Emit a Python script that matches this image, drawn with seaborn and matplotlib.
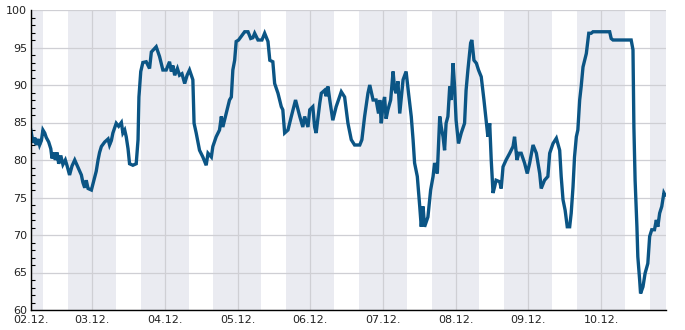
import matplotlib
matplotlib.use("Agg")
import matplotlib.pyplot as plt
import seaborn as sns
import pandas as pd
from matplotlib.ticker import MultipleLocator, FixedLocator

# hours since 02.12. 00:00
hours = [3.6, 4.1, 4.4, 5.0, 5.5, 6.1, 6.6, 7.2, 7.7, 8.3, 8.8, 9.6, 10.3, 10.7, 11.4, 11.8,
         12.4, 12.9, 13.6, 14.3, 15.1, 15.7, 16.5, 17.3, 18.2, 19.3, 20.4, 20.9, 21.5, 22.0,
         22.6, 23.7, 24.2, 25.3, 25.9, 26.4, 27.0, 28.1, 29.2, 29.7, 30.3, 30.8, 31.9, 32.7,
         33.6, 34.1, 34.7, 35.2, 35.8, 36.3, 37.4, 38.5, 39.1, 39.4, 40.0, 40.7, 41.8, 42.9,
         43.5, 45.1, 46.2, 47.3, 48.4, 49.5, 50.1, 50.6, 51.2, 52.1, 52.8, 53.6, 54.5, 55.3,
         56.1, 57.2, 57.6, 58.3, 59.4, 60.5, 61.6, 62.2, 63.3, 63.8, 64.9, 66.0, 66.6, 67.1,
         68.2, 69.3, 69.9, 70.4, 71.0, 71.5, 72.3, 73.2, 74.3, 75.4, 76.3, 77.0, 77.6, 78.7,
         80.0, 80.9, 82.0, 82.6, 83.6, 84.2, 85.3, 86.4, 86.9, 87.5, 88.6, 89.7, 91.1, 92.5,
         93.5, 94.1, 95.2, 95.8, 96.8, 97.4, 97.9, 99.1, 99.6, 100.7, 101.2, 101.8, 102.4,
         103.4, 104.5, 106.2, 107.3, 108.4, 109.5, 110.6, 112.3, 113.0, 113.9, 115.0, 115.6,
         116.7, 117.7, 118.5, 118.9, 119.4, 120.0, 120.5, 121.0, 121.6, 122.5, 123.3, 123.8,
         124.3, 124.9, 125.5, 126.6, 127.6, 128.4, 129.3, 129.9, 130.4, 131.3, 132.1, 132.6,
         133.2, 133.7, 134.8, 135.7, 136.5, 137.0, 137.9, 138.7, 139.2, 139.8, 140.3, 140.8,
         141.4, 142.0, 142.5, 143.1, 143.6, 144.1, 144.9, 145.8, 146.9, 147.4, 148.0, 148.9,
         149.3, 150.0, 150.8, 151.5, 152.4, 153.3, 154.0, 154.6, 155.2, 155.7, 156.3, 156.8,
         157.3, 158.5, 159.0, 159.6, 160.6, 161.8, 162.9, 163.4, 164.2, 164.8, 165.6, 166.7,
         167.6, 168.4, 169.5, 170.6, 171.7, 172.2, 173.3, 174.4, 175.0, 176.1, 177.2, 178.3,
         178.8, 179.4, 180.1, 180.8, 181.6, 182.1, 182.7, 183.2, 183.8, 184.3, 184.9, 185.4,
         186.0, 187.1, 187.9, 188.7, 189.3, 194.8, 195.3, 195.9, 201.9, 202.5, 202.8, 203.2,
         203.8, 204.1, 204.7, 205.0, 205.8, 206.5, 207.4, 208.0, 208.7, 209.6, 210.2, 210.7,
         211.3, 212.0, 212.7, 213.1]
values = [84.2, 83.1, 82.3, 83.0, 82.0, 82.8, 82.0, 82.6, 84.0, 83.6, 83.0, 82.4, 81.5, 80.2, 81.0, 80.0,
          81.0, 79.5, 80.6, 79.4, 80.0, 79.2, 78.0, 79.2, 80.0, 79.0, 78.0, 77.0, 76.3, 77.3,
          76.2, 76.0, 76.8, 78.5, 80.0, 81.0, 81.8, 82.4, 82.8, 82.0, 82.6, 83.6, 84.9, 84.5,
          85.0, 83.6, 84.0, 83.1, 81.5, 79.5, 79.3, 79.5, 82.7, 88.4, 91.8, 93.0, 93.1, 92.2,
          94.4, 95.1, 93.8, 92.0, 92.0, 93.1, 91.8, 92.6, 91.3, 92.2, 91.3, 91.5, 90.2, 91.3,
          92.0, 90.7, 84.9, 83.6, 81.3, 80.4, 79.3, 80.9, 80.4, 81.8, 83.1, 84.0, 85.8, 84.4,
          86.2, 88.0, 88.4, 92.0, 93.3, 95.8, 96.0, 96.5, 97.1, 97.1, 96.2, 96.3, 96.9, 96.0,
          96.0, 96.9, 95.8, 93.3, 93.1, 90.2, 88.9, 87.1, 86.7, 83.6, 84.0, 85.8, 88.0, 85.8,
          84.4, 85.8, 84.4, 86.7, 87.1, 84.4, 83.6, 87.6, 88.9, 89.3, 88.5, 89.8, 88.0,
          85.3, 87.1, 89.1, 88.4, 84.9, 82.7, 82.0, 82.0, 82.7, 85.8, 88.9, 90.0,
          88.0, 88.0, 86.2, 88.0, 84.9, 87.5, 88.4, 85.5, 86.7, 88.0, 91.8, 89.5,
          88.9, 90.5, 86.2, 90.7, 91.8, 88.9, 85.8, 82.7, 79.6, 77.8, 73.8, 71.1,
          73.8, 71.1, 72.4, 76.0, 77.8, 79.6, 78.2, 85.8, 84.4, 83.1, 81.3, 84.9,
          85.8, 89.8, 88.0, 92.9, 89.8, 85.3, 82.2, 83.6, 84.9, 89.3, 92.0, 95.6,
          96.0, 93.3, 92.9, 92.0, 91.1, 88.0, 85.3, 83.1, 84.9, 80.0, 75.6, 76.4,
          77.3, 77.1, 76.2, 79.1, 80.0, 80.9, 81.8, 83.1, 80.0, 80.9, 80.9, 79.6,
          78.2, 79.6, 82.0, 80.9, 78.2, 76.2, 77.3, 77.8, 80.9, 82.2, 82.9, 81.3,
          77.8, 74.7, 73.3, 71.1, 71.1, 72.9, 76.4, 80.4, 83.1, 84.0, 88.0, 89.8,
          92.4, 94.2, 96.9, 96.9, 97.1, 97.1, 96.2, 96.0, 96.0, 94.7, 84.4, 77.3,
          71.1, 67.1, 64.0, 62.2, 63.1, 64.9, 66.2, 69.8, 70.7, 70.7, 72.0, 71.1,
          72.9, 73.8, 75.6, 75.3]

tick_labels = ["02.12.", "03.12.", "04.12.", "05.12.", "06.12.", "07.12.", "08.12.", "09.12.", "10.12."]
night_start = 16.0   # hour of day when shading begins
night_end = 7.8      # hour of day when shading ends

df = pd.DataFrame({"hours": hours, "value": values})

sns.set_theme(style="white")
plt.rcParams['font.family'] = ['DejaVu Sans']

fig = plt.figure(figsize=(6.85, 3.30), dpi=100)
ax = fig.add_axes([30.5 / 685, 20 / 330, (666 - 30.5) / 685, 300 / 330])

x0, x1 = hours[0], 213.4
# night shading
for d in range(-1, 10):
    s = d * 24 + night_start
    e = (d + 1) * 24 + night_end
    s2, e2 = max(s, x0), min(e, x1)
    if e2 > s2:
        ax.axvspan(s2, e2, color="#eaebf1", lw=0, zorder=0)

sns.lineplot(data=df, x="hours", y="value", ax=ax, color="#0b5585", lw=2.4,
             estimator=None, sort=False, zorder=3)
ax.lines[-1].set_solid_joinstyle("miter")

ax.set_xlim(x0, x1)
ax.set_ylim(60, 100)
ticks = [x0] + [24 * i for i in range(1, 9)]
ax.xaxis.set_major_locator(FixedLocator(ticks))
ax.set_xticklabels(tick_labels)
ax.yaxis.set_major_locator(MultipleLocator(5))
ax.yaxis.set_minor_locator(MultipleLocator(1))
ax.grid(True, which="major", color="#cfcfd4", lw=0.9, zorder=1)
ax.set_axisbelow(True)
ax.set_xlabel("")
ax.set_ylabel("")
for side in ["top", "right"]:
    ax.spines[side].set_visible(False)
for side in ["left", "bottom"]:
    ax.spines[side].set_color("black")
    ax.spines[side].set_linewidth(1.0)
    ax.spines[side].set_zorder(4)
ax.tick_params(axis="both", which="both", direction="in", color="black", labelsize=8,
               labelcolor="#222222")
ax.tick_params(axis="both", which="major", length=4, width=0.9, pad=2)
ax.tick_params(axis="x", which="major", pad=3.5)
ax.tick_params(axis="y", which="major", pad=2.5)
ax.tick_params(axis="y", which="minor", length=3, width=0.8, left=True)
ax.tick_params(axis="x", which="minor", bottom=False)
ax.set_facecolor("white")

fig.savefig("out.png", dpi=100)
